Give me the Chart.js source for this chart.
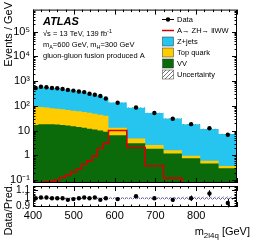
<!DOCTYPE html>
<html>
<head>
<meta charset="utf-8">
<script src="https://cdn.jsdelivr.net/npm/chart.js@4/dist/chart.umd.min.js"></script>
<style>
body { margin: 0; background: #fff; width: 258px; height: 247px; position: relative; overflow: hidden; }
canvas { position: absolute; left: 0; top: 0; }
</style>
</head>
<body>
<canvas id="mainChart" width="258" height="247"></canvas>
<canvas id="ratioChart" width="258" height="247"></canvas>
<script>
// binning (GeV) and values
const binEdges = [400, 413, 426, 440, 453, 466, 479, 492, 506, 519, 532, 545, 558, 572, 585, 630, 675, 720, 765, 810, 855, 900];
const dataVals   = [526, 590, 560, 526, 512, 481, 440, 413, 378, 358, 308, 282, 251, 197, 134, 86, 51.6, 30.3, 18.2, 12.4, 6.8];
const zjetsVals  = [430, 494, 469, 446, 436, 409, 381, 353, 318, 298, 256, 231, 212, 157, 122, 79, 49, 29.3, 17.2, 11.1, 6.86];
const topVals    = [79, 72, 67, 62, 58.5, 55, 52, 49, 46, 43, 40, 37, 34, 31, 6.5, 1.72, 0.79, 0.40, 0.20, 0.13, 0.07];
const vvVals     = [17, 18, 18, 18, 17.5, 17, 16, 15, 14, 13, 12, 11, 10, 9, 6.5, 3.05, 1.85, 1.19, 0.76, 0.47, 0.30];
const signalVals = [0.01, 0.02, 0.085, 0.09, 0.1, 0.127, 0.156, 0.21, 0.28, 0.44, 0.6, 0.93, 1.95, 3.05, 10.1, 2.08, 0.38, 0.12, 0.05, 0.03, 0.02];
const ratioVals  = [1.0, 1.01, 1.01, 1.0, 1.0, 1.0, 0.98, 0.99, 1.0, 1.01, 1.0, 1.01, 0.98, 1.0, 0.99, 1.025, 1.0, 0.98, 1.0, 1.06, 0.94];
const ratioErr   = [0.012, 0.012, 0.012, 0.012, 0.012, 0.013, 0.013, 0.014, 0.014, 0.015, 0.016, 0.017, 0.018, 0.02, 0.013, 0.016, 0.02, 0.027, 0.035, 0.042, 0.055];
const uncRel     = [0.01, 0.01, 0.01, 0.01, 0.01, 0.01, 0.01, 0.01, 0.01, 0.01, 0.01, 0.011, 0.011, 0.012, 0.012, 0.013, 0.014, 0.016, 0.018, 0.02, 0.022];

const yTickValues = [0.1, 1, 10, 100, 1000, 10000, 100000];
const yTickLabels = ['10\u207B\u00B9', '1', '10', '10\u00B2', '10\u00B3', '10\u2074', '10\u2075'];
const xTickValues = [400, 500, 600, 700, 800, 900];
const xTickLabels = ['400', '500', '600', '700', '800', ''];
const ratioTickValues = [0.9, 1, 1.1];
const ratioTickLabels = ['0.9', '1', '1.1'];

const legendLabels = ['Data', 'A\u2192 ZH\u2192 llWW', 'Z+jets', 'Top quark', 'VV', 'Uncertainty'];

const FONT = '"Liberation Sans", Arial, sans-serif';
const cZjets = '#25c5ef', cTop = '#ffcc00', cVV = '#0b6b0b', cSig = '#d20000';

// helpers
function histPoints(vals) {
  const pts = vals.map((v, i) => ({ x: binEdges[i], y: v }));
  pts.push({ x: binEdges[binEdges.length - 1], y: vals[vals.length - 1] });
  return pts;
}
const centers = binEdges.slice(0, -1).map((e, i) => (e + binEdges[i + 1]) / 2);
const stackVV = vvVals.slice();
const stackTop = vvVals.map((v, i) => v + topVals[i]);
const stackAll = stackTop.map((v, i) => v + zjetsVals[i]);

function hatch(ctx, color) {
  const c = document.createElement('canvas');
  c.width = 4; c.height = 4;
  const g = c.getContext('2d');
  g.strokeStyle = color; g.lineWidth = 0.8;
  g.beginPath(); g.moveTo(0, 4); g.lineTo(4, 0); g.moveTo(-1, 1); g.lineTo(1, -1); g.moveTo(3, 5); g.lineTo(5, 3); g.stroke();
  return ctx.createPattern(c, 'repeat');
}

function textRuns(ctx, x, y, parts, size) {
  parts.forEach(p => {
    const s = (p.sub || p.sup) ? size * 0.72 : size;
    ctx.font = s + 'px ' + FONT;
    const dy = p.sub ? size * 0.3 : (p.sup ? -size * 0.42 : 0);
    ctx.fillText(p.t, x, y + dy);
    x += ctx.measureText(p.t).width;
  });
  return x;
}

function drawFrame(chart, xTicks, yTicks) {
  const { ctx, chartArea: a, scales } = chart;
  ctx.save();
  ctx.strokeStyle = '#000';
  ctx.lineWidth = 1;
  ctx.strokeRect(a.left + 0.5, a.top + 0.5, a.right - a.left - 1, a.bottom - a.top - 1);
  ctx.beginPath();
  xTicks.forEach(t => {
    const x = Math.round(scales.x.getPixelForValue(t.v)) + 0.5;
    ctx.moveTo(x, a.bottom); ctx.lineTo(x, a.bottom - t.len);
    ctx.moveTo(x, a.top); ctx.lineTo(x, a.top + t.len);
  });
  yTicks.forEach(t => {
    const y = Math.round(scales.y.getPixelForValue(t.v)) + 0.5;
    if (y < a.top || y > a.bottom) return;
    ctx.moveTo(a.left, y); ctx.lineTo(a.left + t.len, y);
    ctx.moveTo(a.right, y); ctx.lineTo(a.right - t.len, y);
  });
  ctx.stroke();
  ctx.restore();
}

const xFrameTicks = [];
for (let v = 400; v <= 900; v += 20) xFrameTicks.push({ v: v, len: v % 100 === 0 ? 5 : 2.5 });
const yFrameTicks = [];
for (let k = -2; k <= 5; k++) for (let m = 1; m <= 9; m++) yFrameTicks.push({ v: m * Math.pow(10, k), len: m === 1 ? 5 : 2.5 });
const rFrameTicks = [];
for (let v = 0.86; v <= 1.16; v += 0.02) rFrameTicks.push({ v: v, len: Math.abs(v * 10 - Math.round(v * 10)) < 0.01 ? 5 : 2.5 });

// main panel
const mainCtx = document.getElementById('mainChart').getContext('2d');

const mainDecor = {
  id: 'mainDecor',
  afterDatasetsDraw(chart) {
    const { ctx, scales } = chart;
    ctx.save();
    ctx.strokeStyle = '#000'; ctx.lineWidth = 1;
    ctx.beginPath();
    centers.forEach((c, i) => {
      const x = Math.round(scales.x.getPixelForValue(c)) + 0.5;
      const e = dataVals[i] * ratioErr[i] / ratioVals[i];
      ctx.moveTo(x, scales.y.getPixelForValue(dataVals[i] - e));
      ctx.lineTo(x, scales.y.getPixelForValue(dataVals[i] + e));
    });
    ctx.stroke();
    ctx.restore();
  },
  afterDraw(chart) {
    const { ctx } = chart;
    drawFrame(chart, xFrameTicks, yFrameTicks);
    ctx.save();
    ctx.fillStyle = '#000';
    ctx.textBaseline = 'alphabetic';
    ctx.font = 'bold italic 11px ' + FONT;
    ctx.fillText('ATLAS', 43, 25);
    textRuns(ctx, 43, 36, [{ t: '\u221As = 13 TeV, 139 fb' }, { t: '-1', sup: 1 }], 7.5);
    textRuns(ctx, 43, 47, [{ t: 'm' }, { t: 'A', sub: 1 }, { t: '=600 GeV, m' }, { t: 'H', sub: 1 }, { t: '=300 GeV' }], 7.5);
    textRuns(ctx, 43, 58, [{ t: 'gluon-gluon fusion produced A' }], 7.5);

    // legend
    const lx = 162, tx = 177;
    legendLabels.forEach((lab, i) => {
      const y = 19.5 + i * 11;
      if (i === 0) {
        ctx.strokeStyle = '#000'; ctx.lineWidth = 1;
        ctx.beginPath(); ctx.moveTo(lx, y); ctx.lineTo(lx + 12, y); ctx.stroke();
        ctx.beginPath(); ctx.arc(lx + 6, y, 2.2, 0, Math.PI * 2); ctx.fill();
      } else if (i === 1) {
        ctx.strokeStyle = cSig; ctx.lineWidth = 1.5;
        ctx.beginPath(); ctx.moveTo(lx, y); ctx.lineTo(lx + 12, y); ctx.stroke();
      } else {
        const fills = [null, null, cZjets, cTop, cVV, hatch(ctx, '#555')];
        ctx.fillStyle = fills[i];
        ctx.fillRect(lx + 0.5, y - 4.5, 11, 9);
        ctx.strokeStyle = '#333'; ctx.lineWidth = 0.5;
        ctx.strokeRect(lx + 0.5, y - 4.5, 11, 9);
        ctx.fillStyle = '#000';
      }
      ctx.font = '7.5px ' + FONT;
      ctx.textBaseline = 'middle';
      ctx.fillText(lab, tx, y + 0.5);
    });

    // y title
    ctx.translate(9, 2);
    ctx.rotate(-Math.PI / 2);
    ctx.font = '11px ' + FONT;
    ctx.textAlign = 'right';
    ctx.textBaseline = 'middle';
    ctx.fillText('Events / GeV', 0, 0);
    ctx.restore();
  }
};

new Chart(mainCtx, {
  type: 'line',
  data: {
    datasets: [
      { label: 'Data', data: dataVals.map((v, i) => ({ x: centers[i], y: v })), showLine: false,
        pointRadius: 2.2, pointBackgroundColor: '#000', pointBorderWidth: 0 },
      { label: 'Signal', data: histPoints(signalVals), stepped: true, borderColor: cSig, borderWidth: 1.6,
        pointRadius: 0, fill: false },
      { label: 'UncUp', data: histPoints(stackAll.map((v, i) => v * (1 + uncRel[i]))), stepped: true,
        borderWidth: 0, pointRadius: 0, fill: '+1', backgroundColor: hatch(mainCtx, '#4a4a6a') },
      { label: 'UncDn', data: histPoints(stackAll.map((v, i) => v * (1 - uncRel[i]))), stepped: true,
        borderWidth: 0, pointRadius: 0, fill: false },
      { label: 'VV', data: histPoints(stackVV), stepped: true, borderWidth: 0, pointRadius: 0,
        fill: 'start', backgroundColor: cVV },
      { label: 'Top quark', data: histPoints(stackTop), stepped: true, borderWidth: 0, pointRadius: 0,
        fill: 'start', backgroundColor: cTop },
      { label: 'Z+jets', data: histPoints(stackAll), stepped: true, borderWidth: 0, pointRadius: 0,
        fill: 'start', backgroundColor: cZjets }
    ]
  },
  options: {
    responsive: false,
    animation: false,
    layout: { padding: { left: 0, top: 2, right: 21, bottom: 0 } },
    plugins: { legend: { display: false }, tooltip: { enabled: false } },
    scales: {
      x: {
        type: 'linear', min: 400, max: 900,
        grid: { display: false, drawTicks: false }, border: { display: false },
        ticks: { display: false },
        afterFit(scale) { scale.height = 64; }
      },
      y: {
        type: 'logarithmic', min: 0.0765, max: 770000,
        grid: { display: false, drawTicks: false }, border: { display: false },
        afterBuildTicks(scale) { scale.ticks = yTickValues.map(v => ({ value: v })); },
        ticks: {
          callback: v => { const i = yTickValues.indexOf(v); return i < 0 ? '' : yTickLabels[i]; },
          font: { family: FONT, size: 11 }, color: '#000', padding: 3, autoSkip: false, maxRotation: 0
        },
        afterFit(scale) { scale.width = 33; }
      }
    }
  },
  plugins: [mainDecor]
});

// ratio panel
const ratioCtx = document.getElementById('ratioChart').getContext('2d');

const ratioDecor = {
  id: 'ratioDecor',
  afterDatasetsDraw(chart) {
    const { ctx, scales } = chart;
    ctx.save();
    ctx.strokeStyle = '#000'; ctx.lineWidth = 1;
    ctx.beginPath();
    centers.forEach((c, i) => {
      const x = Math.round(scales.x.getPixelForValue(c)) + 0.5;
      ctx.moveTo(x, scales.y.getPixelForValue(ratioVals[i] - ratioErr[i]));
      ctx.lineTo(x, scales.y.getPixelForValue(ratioVals[i] + ratioErr[i]));
    });
    ctx.stroke();
    ctx.restore();
  },
  afterDraw(chart) {
    const { ctx } = chart;
    drawFrame(chart, xFrameTicks, rFrameTicks);
    ctx.save();
    ctx.fillStyle = '#000';
    ctx.textAlign = 'left';
    ctx.textBaseline = 'alphabetic';
    // x title, right aligned
    const parts = [{ t: 'm' }, { t: '2l4q', sub: 1 }, { t: ' [GeV]' }];
    let w = 0;
    parts.forEach(p => { ctx.font = ((p.sub ? 11 * 0.72 : 11)) + 'px ' + FONT; w += ctx.measureText(p.t).width; });
    textRuns(ctx, 250 - w, 235, parts, 11);
    // y title
    ctx.translate(9, 183);
    ctx.rotate(-Math.PI / 2);
    ctx.font = '11px ' + FONT;
    ctx.textAlign = 'right';
    ctx.textBaseline = 'middle';
    ctx.fillText('Data/Pred.', 0, 0);
    ctx.restore();
  }
};

new Chart(ratioCtx, {
  type: 'line',
  data: {
    datasets: [
      { label: 'Ratio', data: ratioVals.map((v, i) => ({ x: centers[i], y: v })), showLine: false,
        pointRadius: 2.2, pointBackgroundColor: '#000', pointBorderWidth: 0 },
      { label: 'One', data: [{ x: 400, y: 1 }, { x: 900, y: 1 }], borderColor: '#5050a0', borderWidth: 1,
        borderDash: [1, 1], pointRadius: 0, fill: false },
      { label: 'UncUp', data: histPoints(uncRel.map(u => 1 + u)), stepped: true, borderWidth: 0,
        pointRadius: 0, fill: '+1', backgroundColor: hatch(ratioCtx, '#6a6aa0') },
      { label: 'UncDn', data: histPoints(uncRel.map(u => 1 - u)), stepped: true, borderWidth: 0,
        pointRadius: 0, fill: false }
    ]
  },
  options: {
    responsive: false,
    animation: false,
    layout: { padding: { left: 0, top: 186, right: 21, bottom: 0 } },
    plugins: { legend: { display: false }, tooltip: { enabled: false } },
    scales: {
      x: {
        type: 'linear', min: 400, max: 900,
        grid: { display: false, drawTicks: false }, border: { display: false },
        afterBuildTicks(scale) { scale.ticks = xTickValues.map(v => ({ value: v })); },
        ticks: {
          callback: v => { const i = xTickValues.indexOf(v); return i < 0 ? '' : xTickLabels[i]; },
          font: { family: FONT, size: 11 }, color: '#000', padding: 2, autoSkip: false, maxRotation: 0
        },
        afterFit(scale) { scale.height = 40; }
      },
      y: {
        type: 'linear', min: 0.89, max: 1.155,
        grid: { display: false, drawTicks: false }, border: { display: false },
        afterBuildTicks(scale) { scale.ticks = ratioTickValues.map(v => ({ value: v })); },
        ticks: {
          callback: v => { const i = ratioTickValues.indexOf(v); return i < 0 ? '' : ratioTickLabels[i]; },
          font: { family: FONT, size: 10 }, color: '#000', padding: 3, autoSkip: false, maxRotation: 0
        },
        afterFit(scale) { scale.width = 33; }
      }
    }
  },
  plugins: [ratioDecor]
});
</script>
</body>
</html>
